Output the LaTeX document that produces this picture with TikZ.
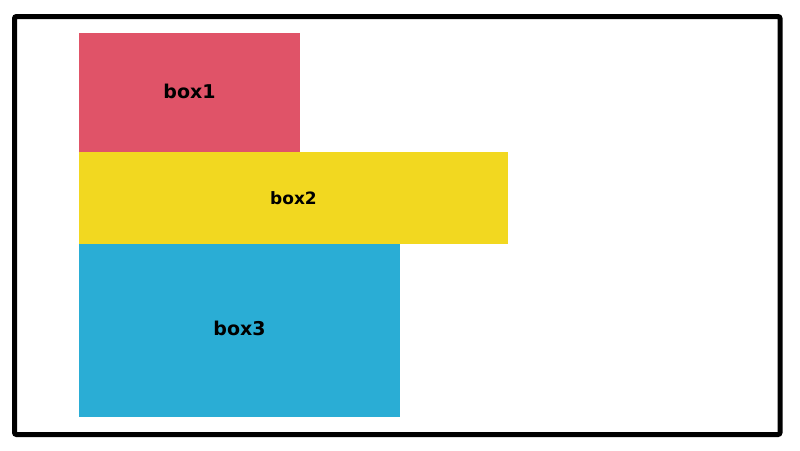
\documentclass[tikz,border=0pt]{standalone}
\usepackage{fontspec}
\setmainfont{DejaVu Sans}
\definecolor{cred}{HTML}{E05368}
\definecolor{cyel}{HTML}{F2D820}
\definecolor{cblu}{HTML}{2AADD5}
\begin{document}
\begin{tikzpicture}[x=1pt,y=-1pt,
  boxlabel/.style={text=black}]
\useasboundingbox (0,0) rectangle (800,450);
\fill[white] (0,0) rectangle (800,450);
\draw[line width=5pt, rounded corners=2pt] (14.5,16.5) rectangle (780,434.5);
\fill[cred] (79,33) rectangle (300,152.5);
\fill[cblu] (79,244) rectangle (400,417);
\fill[cyel] (79,152) rectangle (508,244);
\node[boxlabel, font=\fontsize{19}{21}\bfseries] (b1) at (189.5,91) {box1};
\node[boxlabel, font=\fontsize{17}{19}\bfseries] (b2) at (293.5,198) {box2};
\node[boxlabel, font=\fontsize{19}{21}\bfseries] (b3) at (239.5,328) {box3};
\end{tikzpicture}
\end{document}
